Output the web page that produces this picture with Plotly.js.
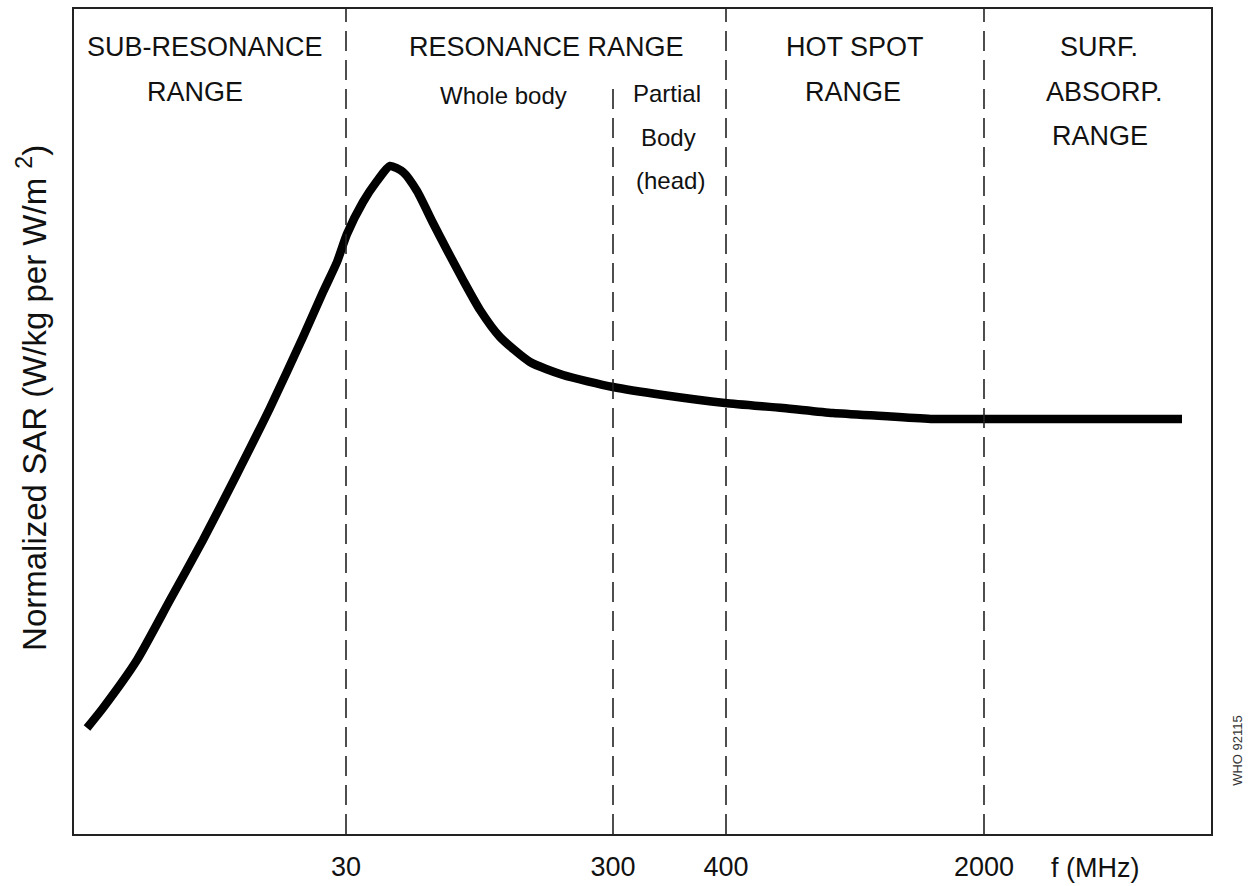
<!DOCTYPE html>
<html>
<head>
<meta charset="utf-8">
<script src="https://cdn.plot.ly/plotly-3.0.1.min.js"></script>
<style>html,body{margin:0;padding:0;background:#fff;}#chart{width:1248px;height:886px;}</style>
</head>
<body>
<div id="chart"></div>
<script>
// Schematic frequency axis positions (not a true log scale)
var bandEdgePos = [272, 539, 652, 910];
var bandEdgeLabel = ['30', '300', '400', '2000'];
var bandEdgeTop = [825, 751, 825, 825];

// Normalized SAR curve (arbitrary units)
var curveX = [13, 29, 63, 96, 129, 163, 196, 229, 249, 263, 273, 289, 303, 316, 329, 343, 359, 373, 389, 406, 426, 456, 489, 539, 589, 651, 709, 759, 809, 859, 909, 1108];
var curveY = [106, 126, 174, 234, 294, 360, 426, 497, 542, 572, 600, 632, 653, 668, 662, 643, 611, 584, 554, 524, 497, 472, 459, 447, 439, 431, 426, 421, 418, 415, 415, 415];

// Range labels
var rangeText = ['SUB-RESONANCE', 'RANGE', 'RESONANCE RANGE', 'HOT SPOT', 'RANGE', 'SURF.', 'ABSORP.', 'RANGE'];
var rangeX = [131, 121, 472, 781, 779, 1025, 1030, 1026];
var rangeY = [787, 742, 787, 787, 742, 787, 742, 698];

var subText = ['Whole body', 'Partial', 'Body', '(head)'];
var subX = [429, 593, 594, 596];
var subY = [739, 741, 697, 654];

var SANS = '"Liberation Sans", Arial, sans-serif';
var INK = '#111';

var shapes = bandEdgePos.map(function (p, i) {
  return {
    type: 'line', xref: 'x', yref: 'y',
    x0: p, x1: p, y0: 0, y1: bandEdgeTop[i],
    line: {color: '#222', width: 1.6, dash: '20px,9px'}
  };
});

var annotations = [];
rangeText.forEach(function (t, i) {
  annotations.push({text: t, x: rangeX[i], y: rangeY[i], xref: 'x', yref: 'y',
    showarrow: false, xanchor: 'center', yanchor: 'middle',
    font: {family: SANS, size: 27, color: INK}});
});
subText.forEach(function (t, i) {
  annotations.push({text: t, x: subX[i], y: subY[i], xref: 'x', yref: 'y',
    showarrow: false, xanchor: 'center', yanchor: 'middle',
    font: {family: SANS, size: 24, color: INK}});
});
annotations.push({text: 'f (MHz)', x: 1021, y: -0.0412, xref: 'x', yref: 'paper',
  showarrow: false, xanchor: 'center', yanchor: 'middle',
  font: {family: SANS, size: 27, color: INK}});
annotations.push({text: 'Normalized SAR (W/kg per W/m <sup>2</sup>)', x: -0.037, y: 0.5285,
  xref: 'paper', yref: 'paper', showarrow: false, textangle: -90,
  xanchor: 'center', yanchor: 'middle',
  font: {family: SANS, size: 33, color: INK}});
annotations.push({text: 'WHO 92115', x: 1.0237, y: 0.102, xref: 'paper', yref: 'paper',
  showarrow: false, textangle: -90, xanchor: 'center', yanchor: 'middle',
  font: {family: SANS, size: 13, color: '#333'}});

var trace = {
  x: curveX, y: curveY, type: 'scatter', mode: 'lines',
  line: {color: '#000', width: 8.5, shape: 'spline', smoothing: 0.6},
  hoverinfo: 'skip'
};

var layout = {
  width: 1248, height: 886,
  margin: {l: 74, r: 37, t: 9, b: 52, pad: 0},
  paper_bgcolor: '#fff', plot_bgcolor: '#fff',
  showlegend: false,
  xaxis: {
    range: [0, 1137], showgrid: false, zeroline: false,
    showline: true, mirror: true, linecolor: '#222', linewidth: 2,
    tickvals: bandEdgePos, ticktext: bandEdgeLabel, ticks: '',
    ticklabelstandoff: 8,
    tickfont: {family: SANS, size: 27, color: INK},
    fixedrange: true
  },
  yaxis: {
    range: [0, 825], showgrid: false, zeroline: false,
    showline: true, mirror: true, linecolor: '#222', linewidth: 2,
    showticklabels: false, ticks: '', fixedrange: true
  },
  shapes: shapes,
  annotations: annotations
};

Plotly.newPlot('chart', [trace], layout, {displayModeBar: false, staticPlot: true});
</script>
</body>
</html>
